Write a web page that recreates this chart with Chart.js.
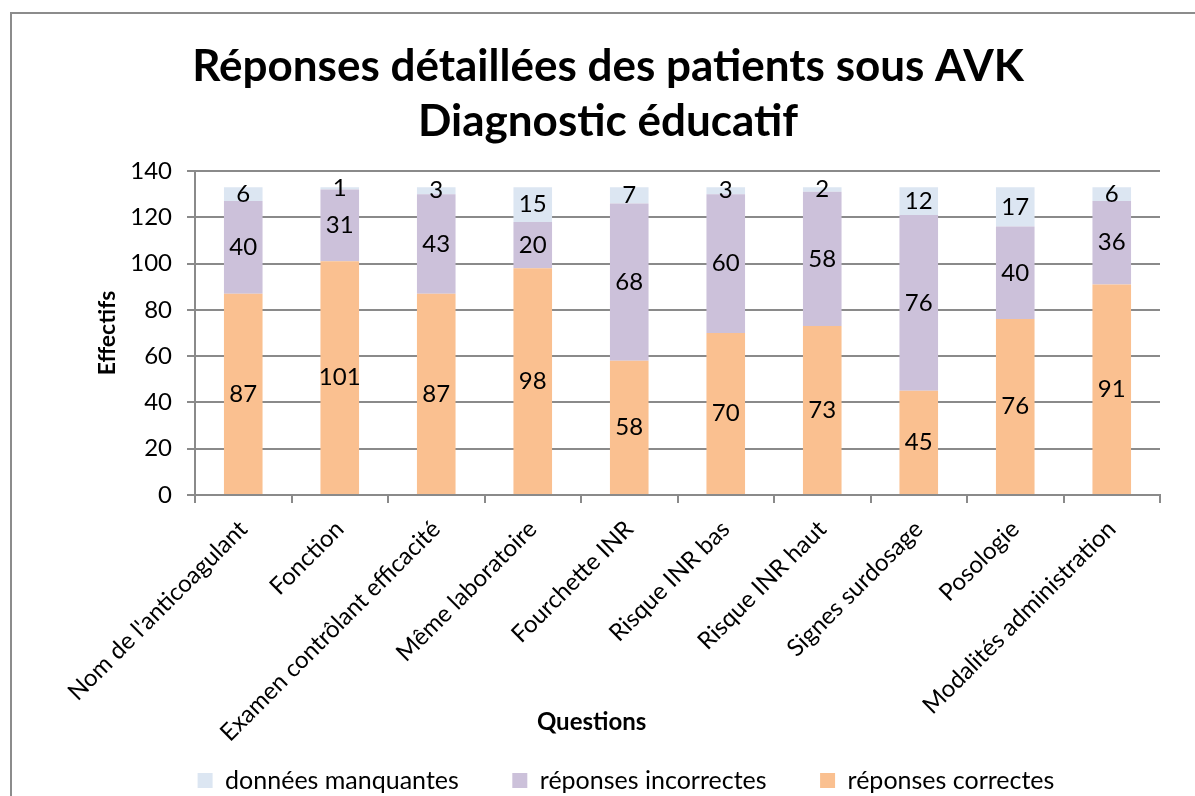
<!DOCTYPE html>
<html lang="fr">
<head>
<meta charset="utf-8">
<title>Réponses détaillées des patients sous AVK</title>
<script src="https://cdn.jsdelivr.net/npm/chart.js@4"></script>
<style>
  html, body { margin: 0; padding: 0; background: #fff; overflow: hidden; }
  .frame {
    position: absolute; left: 10px; top: 12px;
    width: 1300px; height: 900px;
    border: 2px solid #8c8c8c;
  }
  .wrap { position: absolute; left: 0; top: 0; width: 1195px; height: 796px; }
</style>
</head>
<body>
<div class="frame"></div>
<div class="wrap"><canvas id="chart" width="1195" height="796"></canvas></div>
<script>
const questions = [
  "Nom de l'anticoagulant",
  "Fonction",
  "Examen contrôlant efficacité",
  "Même laboratoire",
  "Fourchette INR",
  "Risque INR bas",
  "Risque INR haut",
  "Signes surdosage",
  "Posologie",
  "Modalités administration",
];
const correctes = [87, 101, 87, 98, 58, 70, 73, 45, 76, 91];
const incorrectes = [40, 31, 43, 20, 68, 60, 58, 76, 40, 36];
const manquantes = [6, 1, 3, 15, 7, 3, 2, 12, 17, 6];

const FONT = "Lato, 'Open Sans', sans-serif";
const GRID = "#8a8a8a";

// value written in the middle of each stacked segment
const segmentLabels = {
  id: "segmentLabels",
  afterDatasetsDraw(chart) {
    const ctx = chart.ctx;
    ctx.save();
    ctx.font = "24px " + FONT;
    ctx.fillStyle = "#000";
    ctx.textAlign = "center";
    ctx.textBaseline = "middle";
    chart.data.datasets.forEach((ds, i) => {
      const meta = chart.getDatasetMeta(i);
      meta.data.forEach((bar, j) => {
        ctx.fillText(String(ds.data[j]), bar.x, (bar.y + bar.base) / 2);
      });
    });
    ctx.restore();
  },
};

// x axis title, placed like in the original sheet (left of the plot centre)
const xTitle = {
  id: "xTitle",
  afterLayout(chart) {
    // the sheet's legend sits a bit right of the title centre
    if (chart.legend) {
      chart.legend.left += 18;
      chart.legend.right += 18;
    }
  },
  afterDraw(chart) {
    const area = chart.chartArea;
    const ctx = chart.ctx;
    ctx.save();
    ctx.font = "bold 24px " + FONT;
    ctx.fillStyle = "#000";
    ctx.textAlign = "center";
    ctx.textBaseline = "middle";
    ctx.fillText("Questions", area.left + (area.right - area.left) * 0.411, 722);
    ctx.restore();
  },
};

const ctx = document.querySelector("#chart").getContext("2d");
const chart = new Chart(ctx, {
  type: "bar",
  data: {
    labels: questions,
    datasets: [
      {
        label: "réponses correctes",
        data: correctes,
        backgroundColor: "#fac090",
      },
      {
        label: "réponses incorrectes",
        data: incorrectes,
        backgroundColor: "#ccc1da",
      },
      {
        label: "données manquantes",
        data: manquantes,
        backgroundColor: "#dce6f2",
      },
    ],
  },
  options: {
    responsive: false,
    animation: false,
    layout: { padding: { left: 56, right: 35, top: 0, bottom: -7 } },
    datasets: {
      bar: { barPercentage: 0.4, categoryPercentage: 1, borderWidth: 0 },
    },
    plugins: {
      title: {
        display: true,
        text: ["Réponses détaillées des patients sous AVK", "Diagnostic éducatif"],
        color: "#000",
        font: { family: FONT, size: 44, weight: "bold", lineHeight: 1.25 },
        padding: { top: 39, bottom: 22 },
      },
      legend: {
        position: "bottom",
        reverse: true,
        labels: {
          color: "#000",
          font: { family: FONT, size: 25 },
          boxWidth: 15,
          boxHeight: 15,
          padding: 16,
          generateLabels(chart) {
            const items = Chart.defaults.plugins.legend.labels.generateLabels(chart);
            // wider gap after the first two legend entries
            items.forEach((it) => {
              if (it.datasetIndex > 0) it.text += "\u2003\u2003";
            });
            return items;
          },
        },
      },
      tooltip: { enabled: false },
    },
    scales: {
      x: {
        stacked: true,
        grid: { drawOnChartArea: false, color: GRID, lineWidth: 2, tickLength: 8, offset: true },
        border: { color: GRID, width: 2 },
        ticks: {
          color: "#000",
          font: { family: FONT, size: 24 },
          autoSkip: false,
          maxRotation: 45,
          minRotation: 45,
          padding: 12,
        },
        afterFit(scale) {
          scale.height = 257;
        },
      },
      y: {
        stacked: true,
        min: 0,
        max: 140,
        grid: { color: GRID, lineWidth: 2, tickLength: 8 },
        border: { color: GRID, width: 2 },
        ticks: {
          stepSize: 20,
          color: "#000",
          font: { family: FONT, size: 24 },
          padding: 15,
        },
        title: {
          display: true,
          text: "Effectifs",
          color: "#000",
          font: { family: FONT, size: 23, weight: "bold", lineHeight: 1.2 },
          padding: { top: 38, bottom: 0 },
        },
        afterFit(scale) {
          scale.width = 139;
        },
      },
    },
  },
  plugins: [segmentLabels, xTitle],
});
</script>
</body>
</html>
